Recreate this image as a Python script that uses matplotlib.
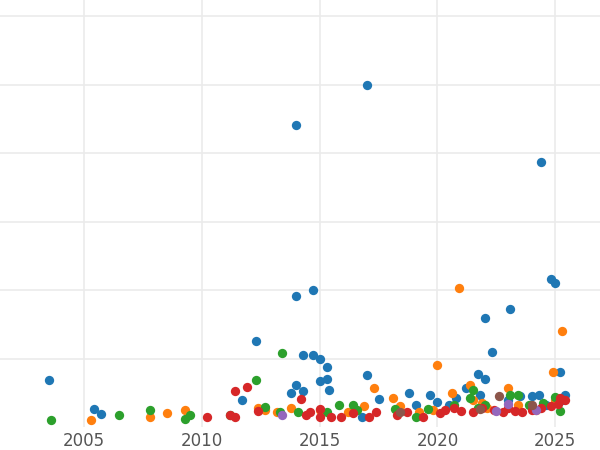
import matplotlib
matplotlib.use("Agg")
import matplotlib.pyplot as plt

blue_x = [2003.5, 2005.4, 2005.7, 2011.7, 2012.3, 2013.8, 2014.0, 2014.0, 2014.0, 2014.3, 2014.3, 2014.7, 2014.7,
          2015.0, 2015.0, 2015.3, 2015.3, 2015.4, 2017.0, 2017.0, 2017.5, 2018.8, 2019.1, 2019.7, 2020.0, 2020.8,
          2021.2, 2021.7, 2021.8, 2022.0, 2022.0, 2022.3, 2023.1, 2023.0, 2023.5, 2024.0, 2024.3, 2024.4, 2024.8,
          2025.0, 2025.2, 2025.4, 2024.6, 2025.3, 2016.8, 2020.5]
blue_y = [0.69, 0.26, 0.19, 0.39, 1.26, 0.5, 0.61, 4.41, 1.91, 1.05, 0.53, 2.0, 1.05,
          0.99, 0.67, 0.88, 0.7, 0.54, 4.99, 0.76, 0.41, 0.5, 0.32, 0.47, 0.36, 0.42,
          0.57, 0.77, 0.47, 1.59, 0.7, 1.09, 1.72, 0.39, 0.45, 0.45, 0.47, 3.87, 2.16,
          2.1, 0.8, 0.47, 0.32, 0.39, 0.15, 0.32]

orange_x = [2005.3, 2007.8, 2008.5, 2009.3, 2012.4, 2012.7, 2013.2, 2013.8, 2015.0, 2016.2, 2016.9, 2017.3,
            2018.1, 2018.4, 2019.2, 2020.0, 2020.6, 2020.9, 2021.4, 2021.5, 2022.1, 2023.0, 2023.4, 2024.2,
            2024.9, 2025.3, 2025.0, 2019.8, 2021.9]
orange_y = [0.1, 0.15, 0.2, 0.25, 0.28, 0.25, 0.22, 0.28, 0.25, 0.22, 0.31, 0.57,
            0.42, 0.31, 0.22, 0.91, 0.5, 2.03, 0.61, 0.39, 0.28, 0.57, 0.32, 0.25,
            0.8, 1.4, 0.39, 0.25, 0.35]

green_x = [2003.6, 2006.5, 2007.8, 2009.3, 2009.5, 2011.2, 2012.3, 2012.7, 2013.4, 2013.3, 2014.1, 2015.3,
           2015.8, 2016.4, 2016.6, 2018.2, 2019.1, 2019.6, 2020.7, 2021.5, 2021.7, 2022.0, 2023.1, 2023.4,
           2023.9, 2024.5, 2025.0, 2025.2, 2021.4]
green_y = [0.1, 0.18, 0.25, 0.12, 0.18, 0.18, 0.69, 0.29, 1.08, 0.22, 0.22, 0.22,
           0.32, 0.32, 0.25, 0.26, 0.15, 0.26, 0.32, 0.54, 0.28, 0.32, 0.47, 0.47,
           0.32, 0.35, 0.44, 0.23, 0.42]

red_x = [2010.2, 2011.2, 2011.4, 2011.4, 2011.9, 2012.4, 2014.2, 2014.4, 2014.6, 2015.0, 2015.0, 2015.5,
         2015.9, 2016.4, 2017.1, 2017.4, 2018.3, 2018.7, 2019.4, 2020.1, 2020.3, 2020.7, 2021.0, 2021.5,
         2021.9, 2022.4, 2022.8, 2023.3, 2023.6, 2024.0, 2024.4, 2024.8, 2025.1, 2025.4, 2023.0, 2025.2]
red_y = [0.15, 0.18, 0.15, 0.53, 0.58, 0.23, 0.41, 0.18, 0.22, 0.26, 0.15, 0.15,
         0.15, 0.2, 0.15, 0.22, 0.18, 0.22, 0.15, 0.2, 0.25, 0.28, 0.23, 0.22,
         0.28, 0.25, 0.22, 0.23, 0.22, 0.25, 0.28, 0.31, 0.34, 0.39, 0.28, 0.42]

purple_x = [2013.4, 2022.5, 2023.0, 2024.2]
purple_y = [0.18, 0.23, 0.34, 0.25]

brown_x = [2022.6, 2018.4, 2021.8, 2024.0]
brown_y = [0.45, 0.22, 0.26, 0.32]

series = [
    (blue_x, blue_y, "#1f77b4"),
    (orange_x, orange_y, "#ff7f0e"),
    (green_x, green_y, "#2ca02c"),
    (red_x, red_y, "#d62728"),
    (purple_x, purple_y, "#9467bd"),
    (brown_x, brown_y, "#8c564b"),
]

fig = plt.figure(figsize=(6, 4.5), dpi=100)
ax = fig.add_axes([0, 23 / 450, 1, 427 / 450])
for xs, ys, c in series:
    ax.scatter(xs, ys, s=45, color=c, linewidths=0, zorder=3)

ax.set_xlim(2001.43, 2026.9)
ax.set_ylim(0, 427 / 68.5)
ax.set_xticks([2005, 2010, 2015, 2020, 2025])
ax.set_yticks([1, 2, 3, 4, 5, 6])
ax.set_yticklabels([])
ax.grid(True, color="#ebebeb", linewidth=1.2, zorder=0)
for s in ax.spines.values():
    s.set_visible(False)
ax.tick_params(axis="both", length=0, labelsize=12, labelcolor="#555555")
fig.savefig("out.png")
